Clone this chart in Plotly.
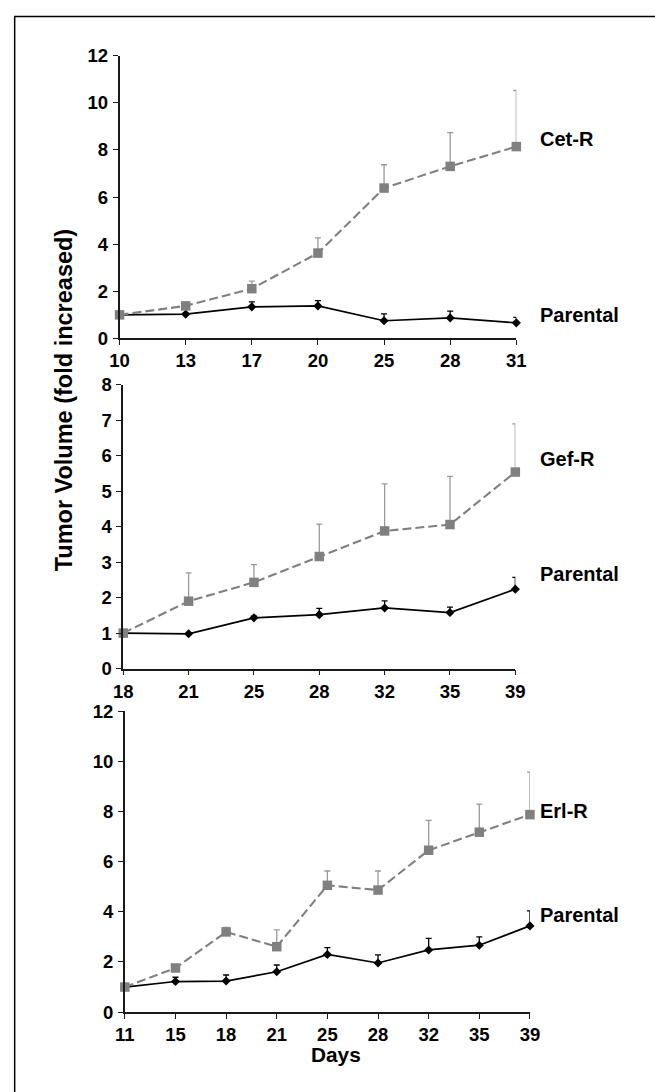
import plotly.graph_objects as go

W, H = 655, 1092
# the photographed page shows the figure offset by the 8px body margin and
# shrunk to fit the window; positions below are given in window pixels
SX, SY, OFF = 0.975, 0.985, 8


def fx(px):
    return (px / SX - OFF) / W


def fy(py):
    return 1 - (py / SY - OFF) / H


# ---------- data ----------
days_cet = ["10", "13", "17", "20", "25", "28", "31"]
cet_r = [1.00, 1.38, 2.11, 3.62, 6.38, 7.30, 8.14]
cet_r_err = [0.0, 0.07, 0.32, 0.65, 0.99, 1.43, 2.38]
cet_par = [1.00, 1.03, 1.34, 1.38, 0.75, 0.87, 0.66]
cet_par_err = [0.0, 0.05, 0.21, 0.22, 0.29, 0.29, 0.23]

days_gef = ["18", "21", "25", "28", "32", "35", "39"]
gef_r = [1.00, 1.90, 2.43, 3.16, 3.88, 4.06, 5.54]
gef_r_err = [0.0, 0.80, 0.50, 0.91, 1.33, 1.36, 1.36]
gef_par = [1.00, 0.98, 1.43, 1.52, 1.71, 1.58, 2.24]
gef_par_err = [0.0, 0.0, 0.05, 0.18, 0.20, 0.15, 0.33]

days_erl = ["11", "15", "18", "21", "25", "28", "32", "35", "39"]
erl_r = [1.00, 1.76, 3.20, 2.61, 5.06, 4.87, 6.46, 7.18, 7.88]
erl_r_err = [0.0, 0.05, 0.18, 0.67, 0.57, 0.76, 1.19, 1.12, 1.70]
erl_par = [1.00, 1.22, 1.24, 1.61, 2.30, 1.96, 2.48, 2.67, 3.44]
erl_par_err = [0.0, 0.17, 0.24, 0.27, 0.27, 0.32, 0.46, 0.33, 0.60]

panels = [
    dict(days=days_cet, res=cet_r, res_err=cet_r_err, par=cet_par, par_err=cet_par_err,
         label="Cet-R", ymax=12, dtick=2, px_x=(118, 517), px_y=(52.7, 336.7),
         lab_y=(136, 313)),
    dict(days=days_gef, res=gef_r, res_err=gef_r_err, par=gef_par, par_err=gef_par_err,
         label="Gef-R", ymax=8, dtick=1, px_x=(121.7, 516), px_y=(383.3, 668.3),
         lab_y=(458, 573)),
    dict(days=days_erl, res=erl_r, res_err=erl_r_err, par=erl_par, par_err=erl_par_err,
         label="Erl-R", ymax=12, dtick=2, px_x=(123.3, 530.7), px_y=(711.3, 1013.3),
         lab_y=(811, 916)),
]

GREY = "#808080"
ERR_GREY = "#9a9a9a"
FONT = "Liberation Sans, Arial, sans-serif"

fig = go.Figure()
annotations = []
for i, p in enumerate(panels, start=1):
    xs = list(range(len(p["days"])))
    xa = "x" if i == 1 else f"x{i}"
    ya = "y" if i == 1 else f"y{i}"
    fig.add_trace(go.Scatter(
        x=xs, y=p["par"], xaxis=xa, yaxis=ya, mode="lines+markers",
        line=dict(color="black", width=1.7),
        marker=dict(symbol="diamond", size=7, color="black"),
        error_y=dict(type="data", array=p["par_err"], arrayminus=[0] * len(xs),
                     symmetric=False, color="black", thickness=1.3, width=3),
        showlegend=False, cliponaxis=False))
    fig.add_trace(go.Scatter(
        x=xs, y=p["res"], xaxis=xa, yaxis=ya, mode="lines+markers",
        line=dict(color=GREY, width=2.1, dash="9px,4px"),
        marker=dict(symbol="square", size=9.5, color=GREY),
        error_y=dict(type="data", array=p["res_err"], arrayminus=[0] * len(xs),
                     symmetric=False, color=ERR_GREY, thickness=1.3, width=3),
        showlegend=False, cliponaxis=False))

    x0, x1 = p["px_x"]
    yt, yb = p["px_y"]
    axcommon = dict(showline=True, linecolor="#1a1a1a", linewidth=1.6, ticks="outside",
                    ticklen=5, tickwidth=1.3, tickcolor="#1a1a1a", showgrid=False,
                    zeroline=False, tickfont=dict(family=FONT, size=18.5, color="black",
                                                 weight="bold"))
    fig.update_layout(**{
        ("xaxis" if i == 1 else f"xaxis{i}"): dict(
            domain=[fx(x0), fx(x1)], anchor=ya, range=[0, len(xs) - 1],
            tickmode="array", tickvals=xs, ticktext=p["days"], **axcommon),
        ("yaxis" if i == 1 else f"yaxis{i}"): dict(
            domain=[fy(yb), fy(yt)], anchor=xa, range=[0, p["ymax"]],
            tick0=0, dtick=p["dtick"], ticklabelstandoff=1, **axcommon),
    })
    for txt, ly in ((p["label"], p["lab_y"][0]), ("Parental", p["lab_y"][1])):
        annotations.append(dict(
            text=txt, xref="paper", yref="paper", x=fx(539), y=fy(ly),
            xanchor="left", yanchor="middle", showarrow=False,
            font=dict(family=FONT, size=20, color="black", weight="bold")))

annotations.append(dict(
    text="Tumor Volume (fold increased)", xref="paper", yref="paper",
    x=fx(63), y=fy(398), textangle=-90, showarrow=False,
    xanchor="center", yanchor="middle",
    font=dict(family=FONT, size=23.5, color="black", weight="bold")))
annotations.append(dict(
    text="Days", xref="paper", yref="paper", x=fx(336), y=fy(1056),
    showarrow=False, xanchor="center", yanchor="middle",
    font=dict(family=FONT, size=20.8, color="black", weight="bold")))

fig.update_layout(
    width=W, height=H, margin=dict(l=0, r=0, t=0, b=0),
    paper_bgcolor="white", plot_bgcolor="white",
    annotations=annotations,
    shapes=[dict(type="rect", xref="paper", yref="paper",
                 x0=fx(12.5), x1=1.2, y0=-0.2, y1=fy(13.5),
                 line=dict(color="black", width=1.5), layer="below")],
)

fig.write_html("out.html")
